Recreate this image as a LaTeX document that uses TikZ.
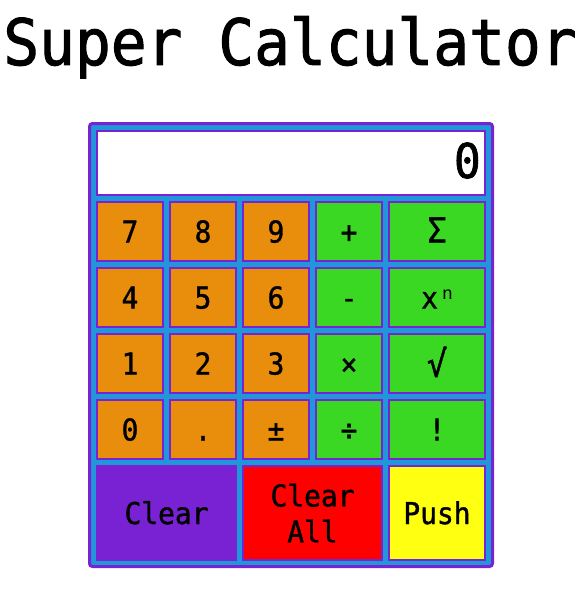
\documentclass[tikz,border=0pt]{standalone}
\usepackage{fontspec}
\newfontfamily\calcfont[FakeStretch=0.93, FakeBold=1.2]{DejaVu Sans Mono}
\newfontfamily\titlefont[FakeStretch=0.93, FakeBold=1.5]{DejaVu Sans Mono}
\newfontfamily\supfont{Liberation Mono}
\definecolor{calcpurple}{RGB}{120,34,212}
\definecolor{calcblue}{RGB}{33,150,217}
\definecolor{calcorange}{RGB}{232,142,12}
\definecolor{calcgreen}{RGB}{58,216,35}
\definecolor{calcred}{RGB}{255,0,0}
\definecolor{calcyellow}{RGB}{255,255,17}
\tikzset{
  keybox/.style={draw=calcpurple, line width=2pt, inner sep=0pt,
    minimum width=66pt, minimum height=59pt,
    font=\calcfont\fontsize{30}{36}\selectfont, text height=22pt, text depth=0pt},
  numkey/.style={keybox, fill=calcorange},
  opkey/.style={keybox, fill=calcgreen},
  widekey/.style={minimum width=96pt},
  bigkey/.style={keybox, minimum width=139pt, minimum height=94pt},
}
\begin{document}
\begin{tikzpicture}[x=1pt,y=-1pt]
\useasboundingbox (0,0) rectangle (583,594);
\node[font=\titlefont\fontsize{64}{64}\selectfont, anchor=base, inner sep=0pt] (title) at (290,65) {Super Calculator};
\node[draw=calcpurple, fill=calcblue, line width=3pt, rounded corners=3pt,
  minimum width=403pt, minimum height=443pt, inner sep=0pt] (frame) at (291,345) {};
\node[draw=calcpurple, fill=white, line width=2pt, minimum width=388pt,
  minimum height=64pt, inner sep=0pt] (display) at (291,163) {};
\node[anchor=base east, inner sep=0pt, font=\titlefont\fontsize{48}{48}\selectfont] (value) at (481,178) {0};
% row 1
\node[numkey] (k7) at (130,231.5) {7};
\node[numkey] (k8) at (203,231.5) {8};
\node[numkey] (k9) at (276,231.5) {9};
\node[opkey] (kplus) at (349,231.5) {+};
\node[opkey, widekey] (ksum) at (437,231.5) {\scalebox{1.15}{Σ}};
% row 2
\node[numkey] (k4) at (130,297.5) {4};
\node[numkey] (k5) at (203,297.5) {5};
\node[numkey] (k6) at (276,297.5) {6};
\node[opkey] (kminus) at (349,297.5) {-};
\node[opkey, widekey] (kpow) at (437,297.5) {x\hspace{4pt}\raisebox{9pt}{\supfont\fontsize{18}{18}\selectfont n}};
% row 3
\node[numkey] (k1) at (130,363.5) {1};
\node[numkey] (k2) at (203,363.5) {2};
\node[numkey] (k3) at (276,363.5) {3};
\node[opkey] (ktimes) at (349,363.5) {×};
\node[opkey, widekey] (ksqrt) at (437,363.5) {\raisebox{-2pt}{\scalebox{1.2}{√}}};
% row 4
\node[numkey] (k0) at (130,429.5) {0};
\node[numkey] (kdot) at (203,429.5) {.};
\node[numkey] (kpm) at (276,429.5) {±};
\node[opkey] (kdiv) at (349,429.5) {÷};
\node[opkey, widekey] (kfact) at (437,429.5) {!};
% row 5
\node[bigkey, fill=calcpurple] (kclear) at (166.5,513) {Clear};
\node[bigkey, fill=calcred, align=center, text height=, text depth=] (kclearall) at (312.5,513) {Clear\\All};
\node[bigkey, fill=calcyellow, minimum width=96pt] (kpush) at (437,513) {Push};
\end{tikzpicture}
\end{document}
